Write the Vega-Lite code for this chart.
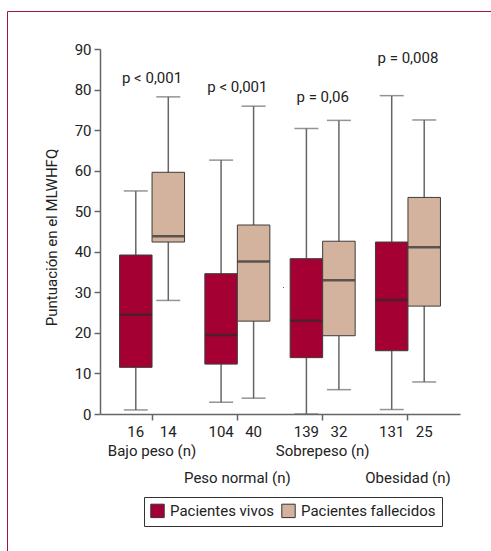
{
  "$schema": "https://vega.github.io/schema/vega-lite/v6.json",
  "autosize": {"type": "none"},
  "width": 360,
  "height": 365,
  "padding": {"left": 100, "top": 49, "right": 31, "bottom": 137},
  "background": "white",
  "config": {
    "view": {"stroke": null},
    "font": "Roboto",
    "axis": {"labelFont": "Roboto", "titleFont": "Roboto", "labelColor": "#222222", "titleColor": "#222222", "domainColor": "#666666", "tickColor": "#666666", "domainWidth": 1.5, "tickWidth": 1.5},
    "legend": {"labelFont": "Roboto"},
    "text": {"font": "Roboto"}
  },
  "datasets": {
    "cajas": [
      {"grupo": "Bajo peso", "estado": "Pacientes vivos", "n": 16, "min": 1, "q1": 11.5, "mediana": 24.5, "q3": 39.2, "max": 55},
      {"grupo": "Bajo peso", "estado": "Pacientes fallecidos", "n": 14, "min": 28, "q1": 42.4, "mediana": 43.8, "q3": 59.6, "max": 78.2},
      {"grupo": "Peso normal", "estado": "Pacientes vivos", "n": 104, "min": 2.9, "q1": 12.3, "mediana": 19.5, "q3": 34.6, "max": 62.6},
      {"grupo": "Peso normal", "estado": "Pacientes fallecidos", "n": 40, "min": 3.9, "q1": 22.9, "mediana": 37.6, "q3": 46.6, "max": 75.9},
      {"grupo": "Sobrepeso", "estado": "Pacientes vivos", "n": 139, "min": 0, "q1": 13.9, "mediana": 23, "q3": 38.3, "max": 70.4},
      {"grupo": "Sobrepeso", "estado": "Pacientes fallecidos", "n": 32, "min": 6, "q1": 19.3, "mediana": 33, "q3": 42.6, "max": 72.4},
      {"grupo": "Obesidad", "estado": "Pacientes vivos", "n": 131, "min": 1.1, "q1": 15.6, "mediana": 28.1, "q3": 42.4, "max": 78.5},
      {"grupo": "Obesidad", "estado": "Pacientes fallecidos", "n": 25, "min": 7.9, "q1": 26.6, "mediana": 41.1, "q3": 53.4, "max": 72.5}
    ],
    "pvalores": [
      {"grupo": "Bajo peso", "p": "p < 0,001", "altura": 82.8},
      {"grupo": "Peso normal", "p": "p < 0,001", "altura": 80.6},
      {"grupo": "Sobrepeso", "p": "p = 0,06", "altura": 78.2},
      {"grupo": "Obesidad", "p": "p = 0,008", "altura": 87.8}
    ]
  },
  "encoding": {
    "x": {
      "field": "grupo",
      "type": "nominal",
      "sort": ["Bajo peso", "Peso normal", "Sobrepeso", "Obesidad"],
      "scale": {"paddingInner": 0.238, "paddingOuter": 0.229},
      "axis": {
        "title": null,
        "labelAngle": 0,
        "labelFontSize": 15,
        "tickSize": 6,
        "labelPadding": 23,
        "labelBaseline": "top",
        "labelLineHeight": 27,
        "labelExpr": "datum.value == 'Peso normal' || datum.value == 'Obesidad' ? ['', datum.value + ' (n)'] : datum.value + ' (n)'"
      }
    }
  },
  "layer": [
    {
      "data": {"name": "cajas"},
      "mark": {"type": "rule", "color": "#666666", "strokeWidth": 1.5},
      "encoding": {
        "xOffset": {"field": "estado", "sort": ["Pacientes vivos", "Pacientes fallecidos"], "scale": {"paddingInner": 0, "paddingOuter": 0}},
        "y": {"field": "min", "type": "quantitative", "scale": {"domain": [0, 90], "nice": false},
          "axis": {"title": "Puntuación en el MLWHFQ", "titleFontSize": 15, "titleFontWeight": "normal", "titlePadding": 15, "titleY": 188, "labelFontSize": 15, "values": [0, 10, 20, 30, 40, 50, 60, 70, 80, 90], "grid": false, "tickSize": 6, "labelPadding": 3}},
        "y2": {"field": "max"}
      }
    },
    {
      "data": {"name": "cajas"},
      "mark": {"type": "tick", "color": "#666666", "thickness": 1.5, "size": 24},
      "encoding": {
        "xOffset": {"field": "estado", "sort": ["Pacientes vivos", "Pacientes fallecidos"]},
        "y": {"field": "min", "type": "quantitative"}
      }
    },
    {
      "data": {"name": "cajas"},
      "mark": {"type": "tick", "color": "#666666", "thickness": 1.5, "size": 24},
      "encoding": {
        "xOffset": {"field": "estado", "sort": ["Pacientes vivos", "Pacientes fallecidos"]},
        "y": {"field": "max", "type": "quantitative"}
      }
    },
    {
      "data": {"name": "cajas"},
      "mark": {"type": "bar", "stroke": "#3d3d3d", "strokeWidth": 1},
      "encoding": {
        "xOffset": {"field": "estado", "sort": ["Pacientes vivos", "Pacientes fallecidos"]},
        "y": {"field": "q1", "type": "quantitative"},
        "y2": {"field": "q3"},
        "fill": {
          "field": "estado",
          "type": "nominal",
          "sort": ["Pacientes vivos", "Pacientes fallecidos"],
          "scale": {"domain": ["Pacientes vivos", "Pacientes fallecidos"], "range": ["#a50034", "#d3b29e"]},
          "legend": {
            "title": null,
            "orient": "none",
            "legendX": 44,
            "legendY": 448,
            "direction": "horizontal",
            "strokeColor": "#333333",
            "padding": 6,
            "symbolType": "square",
            "symbolSize": 180,
            "symbolStrokeColor": "#333333",
            "symbolStrokeWidth": 1,
            "labelFontSize": 15,
            "labelColor": "#222222",
            "columnPadding": 5,
            "labelOffset": 5
          }
        }
      }
    },
    {
      "data": {"name": "cajas"},
      "mark": {"type": "tick", "color": "#2b2b2b", "thickness": 2.5, "size": 32},
      "encoding": {
        "xOffset": {"field": "estado", "sort": ["Pacientes vivos", "Pacientes fallecidos"]},
        "y": {"field": "mediana", "type": "quantitative"}
      }
    },
    {
      "data": {"name": "cajas"},
      "mark": {"type": "text", "fontSize": 15, "color": "#222222", "baseline": "middle", "dy": 18},
      "encoding": {
        "xOffset": {"field": "estado", "sort": ["Pacientes vivos", "Pacientes fallecidos"]},
        "y": {"datum": 0},
        "text": {"field": "n", "type": "quantitative"}
      }
    },
    {
      "data": {"name": "pvalores"},
      "mark": {"type": "text", "fontSize": 15, "color": "#222222", "baseline": "middle"},
      "encoding": {
        "y": {"field": "altura", "type": "quantitative"},
        "text": {"field": "p", "type": "nominal"},
        "opacity": {
          "datum": "marco",
          "scale": {"range": [1]},
          "legend": {
            "title": null,
            "orient": "none",
            "legendX": -93,
            "legendY": -38,
            "strokeColor": "#a3143a",
            "padding": 275,
            "symbolOpacity": 0,
            "symbolSize": 1,
            "labelOpacity": 0,
            "labelFontSize": 1
          }
        }
      }
    }
  ]
}
